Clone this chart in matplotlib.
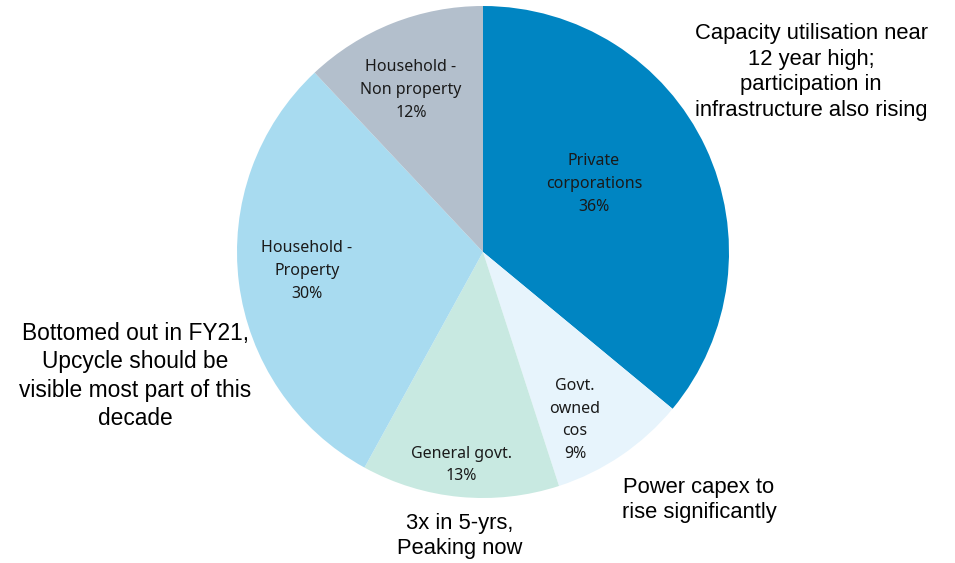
import matplotlib
matplotlib.use("Agg")
import matplotlib.pyplot as plt

# Share of investment by institutional sector
categories = ["Private\ncorporations", "Govt.\nowned\ncos", "General govt.",
              "Household -\nProperty", "Household -\nNon property"]
shares = [36, 9, 13, 30, 12]
colors = ["#0085C2", "#E7F4FC", "#C8E9E1", "#A8DBF0", "#B3BFCC"]

# Commentary placed around the pie
notes = [
    "Capacity utilisation near\n12 year high;\nparticipation in\ninfrastructure also rising",
    "Power capex to\nrise significantly",
    "3x in 5-yrs,\nPeaking now",
    "Bottomed out in FY21,\nUpcycle should be\nvisible most part of this\ndecade",
]

W, H = 955, 563
cx, cy, R = 483, 252, 246  # pie centre and radius in pixels

fig = plt.figure(figsize=(W / 100, H / 100), dpi=100)
ax = fig.add_axes([0, 0, 1, 1])

ax.pie(shares, colors=colors, startangle=90, counterclock=False, radius=1,
       wedgeprops=dict(linewidth=0))
ax.set_aspect("auto")
ax.set_xlim(-cx / R, (W - cx) / R)
ax.set_ylim(-(H - cy) / R, cy / R)
ax.axis("off")

def px(x, y):
    return (x - cx) / R, (cy - y) / R

# in-slice labels
label_pos = [px(594, 184), px(575, 420), px(461, 465), px(307, 271), px(411, 90)]
for name, val, (x, y) in zip(categories, shares, label_pos):
    ax.text(x, y, f"{name}\n{val}%", ha="center", va="center",
            fontsize=11.5, family="Noto Sans", color="#1a1a1a", linespacing=1.55)

note_pos = [px(811, 72), px(699, 500), px(460, 536), px(135, 376)]
note_size = [15.8, 15.8, 15.8, 16.4]
for txt, (x, y), fs in zip(notes, note_pos, note_size):
    ax.text(x, y, txt, ha="center", va="center", fontsize=fs,
            family="Liberation Sans", color="black", linespacing=1.28)

fig.savefig("out.png", dpi=100, facecolor="white")
